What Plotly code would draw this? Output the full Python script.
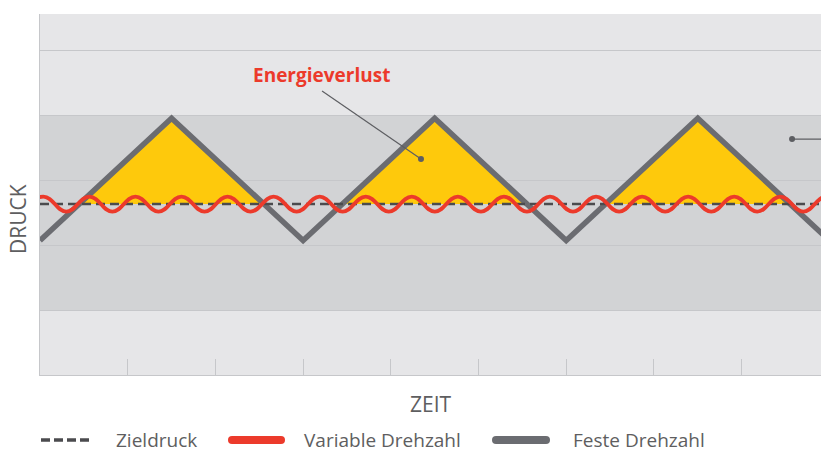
import plotly.graph_objects as go

# ---------------- data ----------------
zeit_ticks = [1, 2, 3, 4, 5, 6, 7, 8]
druck_grid = [1, 2, 3, 4, 5]

# Feste Drehzahl (fixed speed) – triangle wave vertices
feste_x = [0, 1.5, 3, 4.5, 6, 7.5, 9]
feste_y = [2.07, 3.95, 2.07, 3.95, 2.07, 3.95, 2.07]

# Zieldruck (target pressure)
ziel_x = [0, 9.2]
ziel_y = [2.63, 2.63]

# Variable Drehzahl (variable speed) – alternating troughs / crests
variable_x = [-0.225, 0.038, 0.300, 0.563, 0.825, 1.088, 1.351, 1.613, 1.876,
              2.138, 2.401, 2.664, 2.926, 3.189, 3.451, 3.714, 3.977, 4.239,
              4.502, 4.764, 5.027, 5.290, 5.552, 5.815, 6.077, 6.340, 6.603,
              6.865, 7.128, 7.390, 7.653, 7.916, 8.178, 8.441, 8.703, 8.966, 9.228]
variable_y = [2.515 if i % 2 == 0 else 2.745 for i in range(len(variable_x))]

# Annotation anchor points
energie_label = (3.215, 4.615)
energie_tail = (3.216, 4.369)
energie_point = (4.344, 3.323)
right_point = (8.575, 3.63)

# ---------------- styles ----------------
GRAY = "#6b6c71"
RED = "#ec3a2b"
YELLOW = "#fec90c"
DASH = "#4b4b4e"
BAND_DARK = "#d2d3d5"
BAND_LIGHT = "#e6e6e8"
GRID = "#c6c7ca"
TEXT = "#5e5e60"
FONT = "Open Sans"

# Yellow area: fixed-speed curve above target pressure
target = ziel_y[0]
fill_x, fill_y = [], []
for i in range(len(feste_x)):
    x0, y0 = feste_x[i], feste_y[i]
    fill_x.append(x0)
    fill_y.append(max(y0, target))
    if i + 1 < len(feste_x):
        x1, y1 = feste_x[i + 1], feste_y[i + 1]
        if (y0 - target) * (y1 - target) < 0:
            t = (target - y0) / (y1 - y0)
            fill_x.append(x0 + t * (x1 - x0))
            fill_y.append(target)

fig = go.Figure()

fig.add_trace(go.Scatter(x=[feste_x[0], feste_x[-1]], y=[target, target],
                         mode="lines", line=dict(width=0, color=YELLOW),
                         showlegend=False, hoverinfo="skip"))
fig.add_trace(go.Scatter(x=fill_x, y=fill_y, mode="lines", fill="tonexty",
                         fillcolor=YELLOW, line=dict(width=0, color=YELLOW),
                         showlegend=False, hoverinfo="skip"))
fig.add_trace(go.Scatter(x=feste_x, y=feste_y, mode="lines",
                         line=dict(color=GRAY, width=5.5),
                         name="Feste Drehzahl", showlegend=False))
fig.add_trace(go.Scatter(x=ziel_x, y=ziel_y, mode="lines",
                         line=dict(color=DASH, width=2.6, dash="9px,5px"),
                         name="Zieldruck", showlegend=False))
fig.add_trace(go.Scatter(x=variable_x, y=variable_y, mode="lines",
                         line=dict(color=RED, width=3.8, shape="spline", smoothing=1.3),
                         name="Variable Drehzahl", showlegend=False))

# annotation pointer markers
fig.add_trace(go.Scatter(x=[energie_point[0], right_point[0]],
                         y=[energie_point[1], right_point[1]],
                         mode="markers", marker=dict(color="#5d5e62", size=6),
                         showlegend=False, hoverinfo="skip"))

shapes = [
    dict(type="rect", xref="paper", yref="y", x0=0, x1=1, y0=1, y1=4,
         fillcolor=BAND_DARK, line=dict(width=0), layer="below"),
    dict(type="line", xref="x", yref="y", x0=energie_tail[0], y0=energie_tail[1],
         x1=energie_point[0], y1=energie_point[1], line=dict(color="#5d5e62", width=1.2)),
    dict(type="line", xref="x", yref="y", x0=right_point[0], y0=right_point[1],
         x1=9.3, y1=right_point[1], line=dict(color="#5d5e62", width=1.2)),
]

# legend (drawn below the plot)
PX_L, PX_W, PX_T, PX_H = 40, 781, 14, 361
def px_x(p):
    return (p - PX_L) / PX_W
def px_y(p):
    return (PX_T + PX_H - p) / PX_H

leg_y = px_y(440)
legend_items = [
    ("Zieldruck", DASH, 3.5, "9px,4px", 41, 92, 114, False),
    ("Variable Drehzahl", RED, 8, "solid", 232, 281, 302, True),
    ("Feste Drehzahl", GRAY, 8, "solid", 496, 546, 571, True),
]
annotations = []
for label, col, w, dash, s0, s1, tx, rounded in legend_items:
    shapes.append(dict(type="line", xref="paper", yref="paper",
                       x0=px_x(s0), x1=px_x(s1), y0=leg_y, y1=leg_y,
                       line=dict(color=col, width=w, dash=dash)))
    if rounded:
        for end in (s0, s1):
            shapes.append(dict(type="circle", xref="paper", yref="paper",
                               xsizemode="pixel", ysizemode="pixel",
                               xanchor=px_x(end), yanchor=leg_y,
                               x0=-w / 2, x1=w / 2, y0=-w / 2, y1=w / 2,
                               fillcolor=col, line=dict(width=0)))
    annotations.append(dict(text=label, xref="paper", yref="paper",
                            x=px_x(tx), y=leg_y, xanchor="left", yanchor="middle",
                            showarrow=False,
                            font=dict(family=FONT, size=19, color=TEXT, weight=400)))

annotations += [
    dict(text="<b>Energieverlust</b>", x=energie_label[0], y=energie_label[1],
         xref="x", yref="y", showarrow=False, xanchor="center", yanchor="middle",
         font=dict(family=FONT, size=19, color=RED)),
    dict(text="ZEIT", xref="paper", yref="paper", x=px_x(431), y=px_y(404),
         xanchor="center", yanchor="middle", showarrow=False,
         font=dict(family=FONT, size=21, color=TEXT, weight=400)),
    dict(text="DRUCK", xref="paper", yref="paper", x=px_x(18), y=px_y(219),
         xanchor="center", yanchor="middle", showarrow=False, textangle=-90,
         font=dict(family=FONT, size=21, color=TEXT, weight=400)),
]

fig.update_layout(
    width=821, height=453,
    margin=dict(l=40, r=0, t=14, b=78),
    paper_bgcolor="white",
    plot_bgcolor=BAND_LIGHT,
    shapes=shapes,
    annotations=annotations,
    showlegend=False,
    font=dict(family=FONT, color=TEXT),
)
fig.update_xaxes(range=[0, 8.905], tickvals=zeit_ticks, ticks="inside", ticklen=16,
                 tickcolor=GRID, tickwidth=1, showticklabels=False, showgrid=False,
                 zeroline=False, showline=True, linecolor=GRID, linewidth=1, fixedrange=True)
fig.update_yaxes(range=[0, 5.554], tickvals=druck_grid, showticklabels=False, ticks="",
                 showgrid=True, gridcolor=GRID, gridwidth=1, zeroline=False,
                 showline=True, linecolor=GRID, linewidth=1, fixedrange=True)

fig.write_html("out.html", config={"displayModeBar": False},
               post_script="document.body.style.margin='0';")
